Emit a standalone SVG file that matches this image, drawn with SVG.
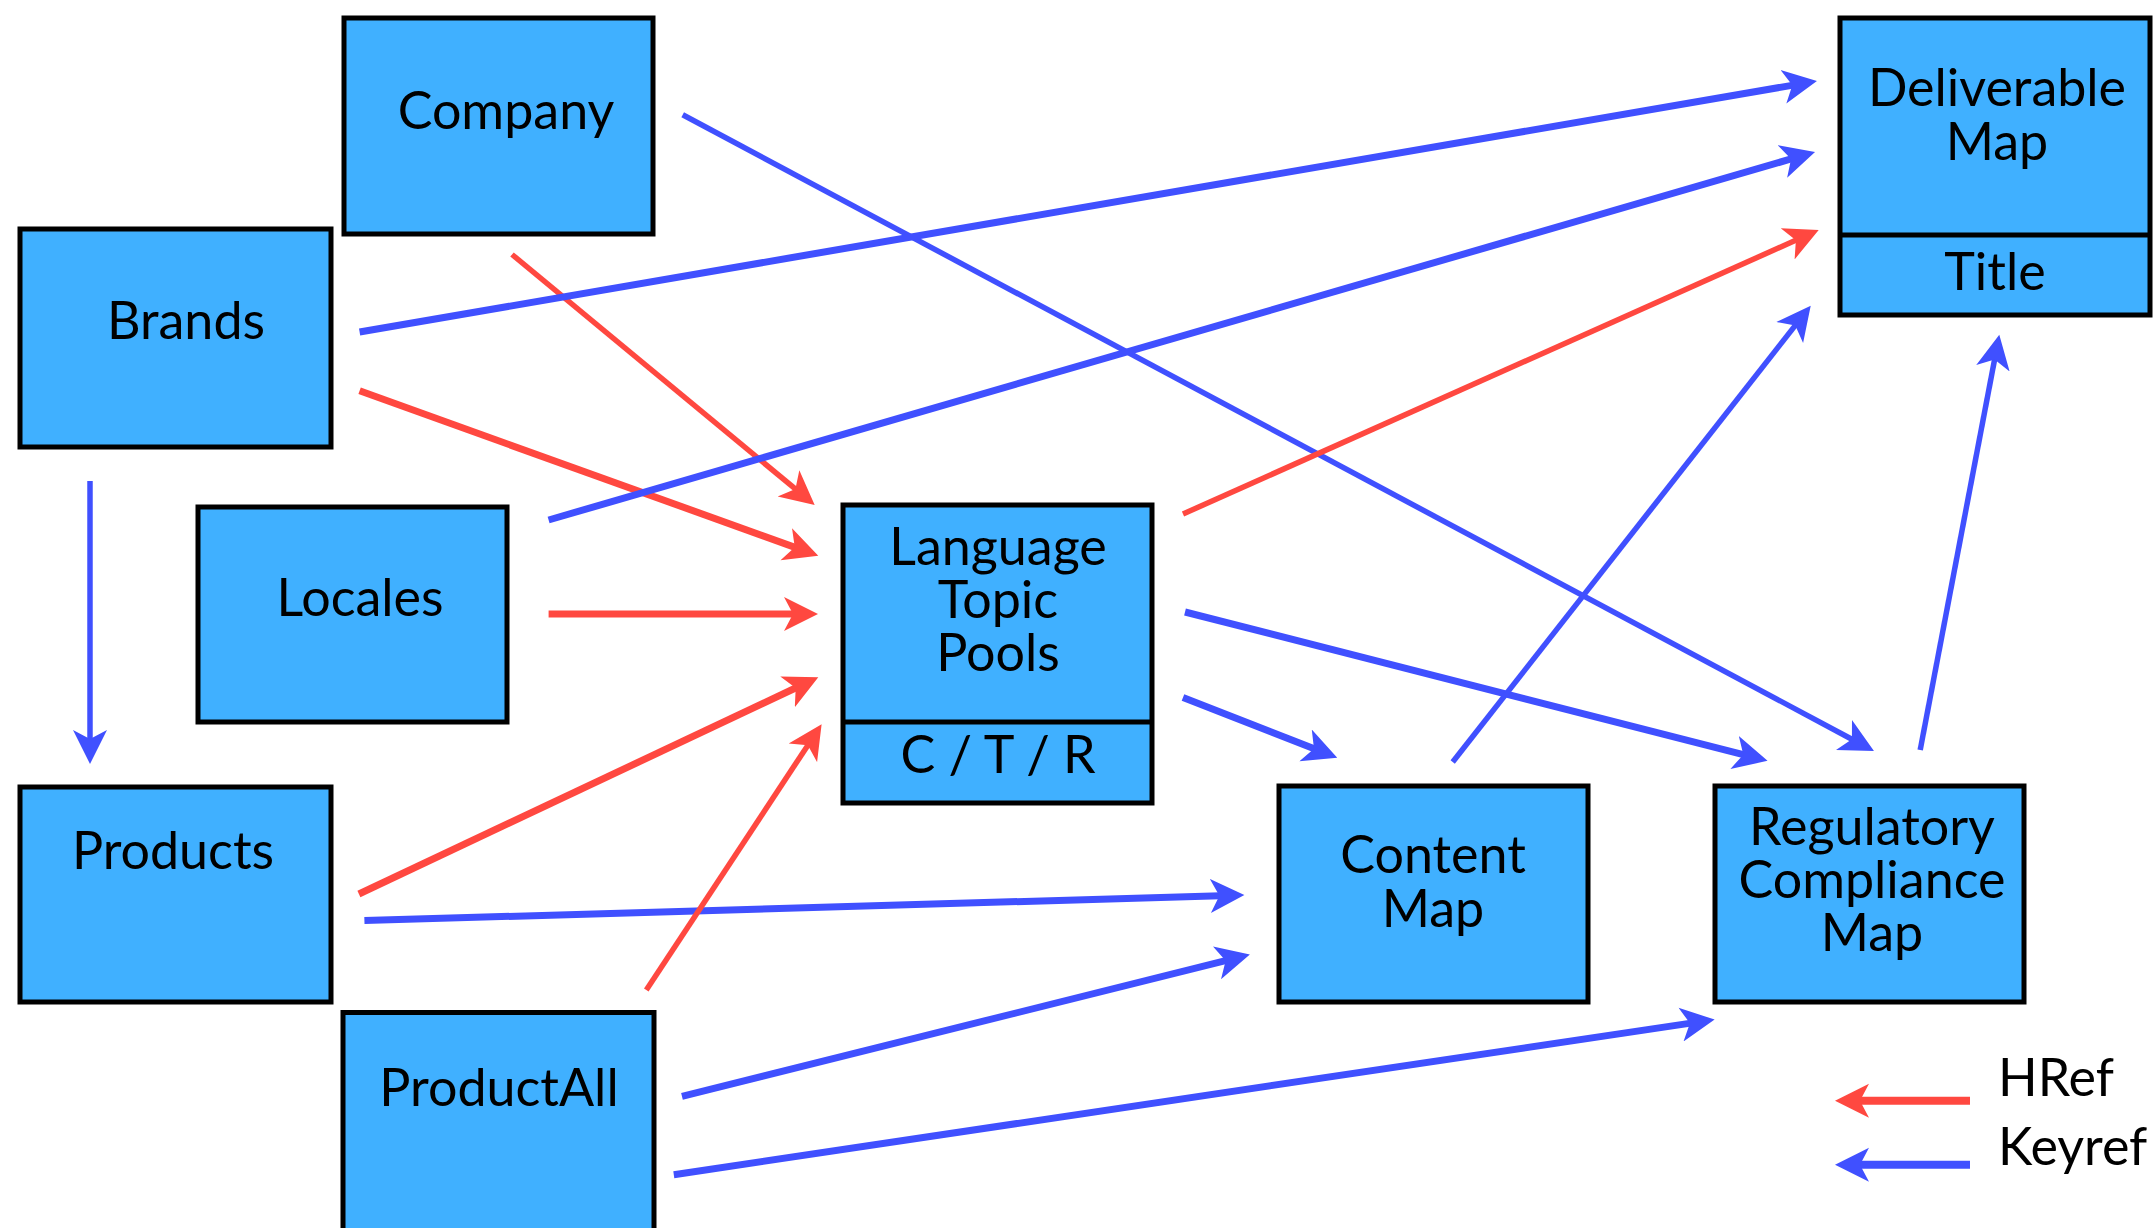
<svg xmlns="http://www.w3.org/2000/svg" width="2156" height="1228" viewBox="0 0 2156 1228">
<style>
.box{fill:#40B0FF;stroke:#000;stroke-width:5}
.div{stroke:#000;stroke-width:5}
.t{font-family:Lato,"Liberation Sans",sans-serif;font-size:52px;fill:#000;text-anchor:middle}
.l{font-family:Lato,"Liberation Sans",sans-serif;font-size:52px;fill:#000}
.b{stroke:#4050FF;fill:none}
.r{stroke:#FF4840;fill:none}
.k{stroke-width:7}
.n{stroke-width:5.5}
.g{stroke-width:8}
.b.k,.b.n{marker-end:url(#ab)}
.r.k,.r.n{marker-end:url(#ar)}
</style>
<defs>
<marker id="ab" markerUnits="userSpaceOnUse" viewBox="0 0 36 36" refX="10" refY="18" markerWidth="36" markerHeight="36" orient="auto">
<path d="M0,1 L34,18 L0,35 L9,18 Z" fill="#4050FF"/>
</marker>
<marker id="ar" markerUnits="userSpaceOnUse" viewBox="0 0 36 36" refX="10" refY="18" markerWidth="36" markerHeight="36" orient="auto">
<path d="M0,1 L34,18 L0,35 L9,18 Z" fill="#FF4840"/>
</marker>
</defs>
<rect width="2156" height="1228" fill="#fff"/>
<g id="connectors">
<line class="b n" x1="682.7" y1="114.7" x2="1852.8" y2="739.7"/>
<line class="r n" x1="512" y1="254.5" x2="796.2" y2="489.7"/>
<line class="b k" x1="359.6" y1="332" x2="1793.3" y2="85.1"/>
<line class="r k" x1="359.6" y1="390.8" x2="795.7" y2="547.6"/>
<line class="b n" x1="90" y1="481" x2="90" y2="740"/>
<line class="b k" x1="548.6" y1="520" x2="1792" y2="158.7"/>
<line class="r k" x1="548.6" y1="614" x2="794" y2="614"/>
<line class="r n" x1="1183" y1="514" x2="1796.8" y2="239.8"/>
<line class="b k" x1="1185" y1="612" x2="1744.3" y2="754.9"/>
<line class="b k" x1="1183" y1="697.4" x2="1314.9" y2="749"/>
<line class="r k" x1="358.9" y1="894" x2="796.6" y2="687.5"/>
<line class="b k" x1="364.4" y1="920.6" x2="1220.4" y2="895.7"/>
<line class="r n" x1="646.3" y1="990" x2="808.4" y2="744.4"/>
<line class="b k" x1="682" y1="1096.4" x2="1226.6" y2="960.4"/>
<line class="b k" x1="673.8" y1="1174.7" x2="1690.9" y2="1023.1"/>
<line class="b n" x1="1452.7" y1="762" x2="1795.9" y2="324.6"/>
<line class="b n" x1="1920.2" y1="749.9" x2="1994.8" y2="358.4"/>
</g>
<g id="company"><rect class="box" x="344" y="18" width="309" height="216"/><text class="t" x="506" y="129">Company</text></g>
<g id="brands"><rect class="box" x="20" y="229" width="311" height="218"/><text class="t" x="186" y="339">Brands</text></g>
<g id="locales"><rect class="box" x="198" y="507" width="309" height="215"/><text class="t" x="360" y="616">Locales</text></g>
<g id="products"><rect class="box" x="20" y="787" width="311" height="215"/><text class="t" x="173" y="869">Products</text></g>
<g id="productall"><rect class="box" x="343" y="1012.5" width="311" height="230"/><text class="t" x="499" y="1106">ProductAll</text></g>
<g id="language-topic-pools"><rect class="box" x="843" y="505" width="309" height="298"/><line class="div" x1="843" y1="722" x2="1152" y2="722"/>
<text class="t" x="998" y="565">Language</text><text class="t" x="998" y="618">Topic</text><text class="t" x="998" y="671">Pools</text>
<text class="t" x="998" y="773">C / T / R</text></g>
<g id="content-map"><rect class="box" x="1279" y="786" width="309" height="216"/><text class="t" x="1433" y="873">Content</text><text class="t" x="1433" y="927">Map</text></g>
<g id="regulatory-compliance-map"><rect class="box" x="1715" y="786" width="309" height="216"/><text class="t" x="1872" y="845">Regulatory</text><text class="t" x="1872" y="898">Compliance</text><text class="t" x="1872" y="951">Map</text></g>
<g id="deliverable-map"><rect class="box" x="1840" y="18" width="310" height="297"/><line class="div" x1="1840" y1="235" x2="2150" y2="235"/>
<text class="t" x="1997" y="106">Deliverable</text><text class="t" x="1997" y="160">Map</text><text class="t" x="1995" y="290">Title</text></g>
<g id="legend">
<line class="r g" x1="1970" y1="1100.7" x2="1859" y2="1100.7" marker-end="url(#ar)"/>
<line class="b g" x1="1970" y1="1164.7" x2="1859" y2="1164.7" marker-end="url(#ab)"/>
<text class="l" x="1998" y="1096">HRef</text>
<text class="l" x="1998" y="1165">Keyref</text>
</g>
</svg>
